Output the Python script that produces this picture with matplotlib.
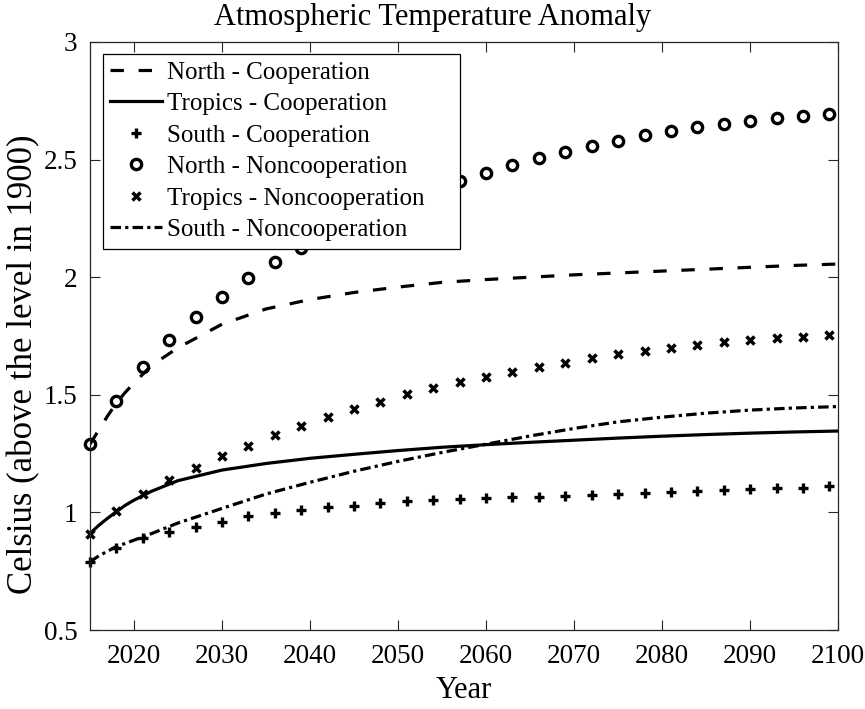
import matplotlib
matplotlib.use("Agg")
import matplotlib.pyplot as plt

plt.rcParams['font.family'] = ['Liberation Serif', 'DejaVu Serif']
plt.rcParams['mathtext.fontset'] = 'stix'

# Smooth model paths (cooperation scenario + South noncooperation)
line_years = [2015, 2016, 2017, 2018, 2019, 2020, 2022, 2025, 2030, 2035, 2040,
              2045, 2050, 2055, 2060, 2065, 2070, 2075, 2080, 2085, 2090, 2095, 2100]
north_coop = [1.29, 1.35, 1.41, 1.465, 1.51, 1.55, 1.625, 1.70, 1.80, 1.865, 1.905,
              1.935, 1.958, 1.978, 1.99, 2.00, 2.01, 2.018, 2.026, 2.034, 2.042, 2.05, 2.056]
tropics_coop = [0.91, 0.945, 0.975, 1.003, 1.03, 1.052, 1.09, 1.135, 1.18, 1.208, 1.23,
                1.247, 1.263, 1.277, 1.288, 1.298, 1.307, 1.316, 1.324, 1.331, 1.337, 1.342, 1.346]
south_noncoop = [0.79, 0.815, 0.835, 0.855, 0.868, 0.882, 0.91, 0.955, 1.017, 1.078, 1.128,
                 1.175, 1.217, 1.255, 1.29, 1.325, 1.357, 1.385, 1.405, 1.422, 1.435, 1.444, 1.45]

# Marker series, every third year from 2015 to 2099
marker_years = list(range(2015, 2100, 3))
south_coop = [0.79, 0.85, 0.89, 0.918, 0.94, 0.96, 0.985, 0.996, 1.01, 1.022, 1.028,
              1.04, 1.048, 1.053, 1.056, 1.06, 1.064, 1.067, 1.071, 1.075, 1.078, 1.084,
              1.085, 1.091, 1.095, 1.098, 1.102, 1.105, 1.112]
north_noncoop = [1.29, 1.475, 1.617, 1.733, 1.832, 1.917, 1.995, 2.066, 2.125, 2.18,
                 2.23, 2.28, 2.33, 2.37, 2.41, 2.444, 2.476, 2.505, 2.534, 2.558, 2.58,
                 2.603, 2.622, 2.639, 2.653, 2.666, 2.678, 2.685, 2.693]
tropics_noncoop = [0.91, 1.005, 1.078, 1.138, 1.19, 1.241, 1.282, 1.329, 1.367, 1.404,
                   1.438, 1.471, 1.502, 1.528, 1.553, 1.574, 1.598, 1.617, 1.637, 1.655,
                   1.673, 1.686, 1.698, 1.712, 1.723, 1.733, 1.743, 1.747, 1.754]

x_ticks = [2020, 2030, 2040, 2050, 2060, 2070, 2080, 2090, 2100]
y_ticks = [0.5, 1, 1.5, 2, 2.5, 3]

fig = plt.figure(figsize=(8.65, 7.09), dpi=100)
ax = fig.add_axes([0.104, 0.1114, 0.865, 0.8294])

lw = 2.3
ax.plot(line_years, north_coop, color='black', lw=lw, dashes=(4.2, 4.6),
        label='North - Cooperation')
ax.plot(line_years, tropics_coop, color='black', lw=lw, label='Tropics - Cooperation')
ax.plot(marker_years, south_coop, linestyle='none', marker='+', color='black',
        markersize=7.5, markeredgewidth=2.4, clip_on=False, label='South - Cooperation')
ax.plot(marker_years, north_noncoop, linestyle='none', marker='o', markerfacecolor='none',
        markeredgecolor='black', markersize=7.4, markeredgewidth=2.4, clip_on=False,
        label='North - Noncooperation')
ax.plot(marker_years, tropics_noncoop, linestyle='none', marker='x', color='black',
        markersize=6.0, markeredgewidth=2.5, clip_on=False,
        label='Tropics - Noncooperation')
ax.plot(line_years, south_noncoop, color='black', lw=lw, dashes=(3.3, 1.3, 1.0, 1.3),
        label='South - Noncooperation')

ax.set_xlim(2015, 2100)
ax.set_ylim(0.5, 3)
ax.set_xticks(x_ticks)
ax.set_yticks(y_ticks)
ax.set_yticklabels(['0.5', '1', '1.5', '2', '2.5', '3'])
ax.tick_params(direction='in', length=7, width=0.8, color='#262626',
               top=True, right=True, labelsize=19.5)
ax.tick_params(axis='x', pad=10)
ax.tick_params(axis='y', pad=9)
for s in ax.spines.values():
    s.set_color('#262626')
    s.set_linewidth(0.9)

fig.text(0.5, 1 - 17 / 709, 'Atmospheric Temperature Anomaly', fontsize=22,
         ha='center', va='center')
fig.text(464 / 865, 1 - 690 / 709, 'Year', fontsize=22, ha='center', va='center')
fig.text(7 / 865, 1 - 364 / 709, 'Celsius (above the level in 1900)', fontsize=25,
         rotation=90, ha='left', va='center')

leg = ax.legend(loc='upper left', bbox_to_anchor=(0.0174, 0.0, 0.477, 0.980),
                mode='expand', borderaxespad=0,
                fontsize=18, frameon=True, fancybox=False, framealpha=1,
                edgecolor='black', handlelength=2.08, handletextpad=0.2,
                labelspacing=0.36, borderpad=0.3, numpoints=1)
leg.get_frame().set_linewidth(0.9)

fig.savefig('out.png', dpi=100)
